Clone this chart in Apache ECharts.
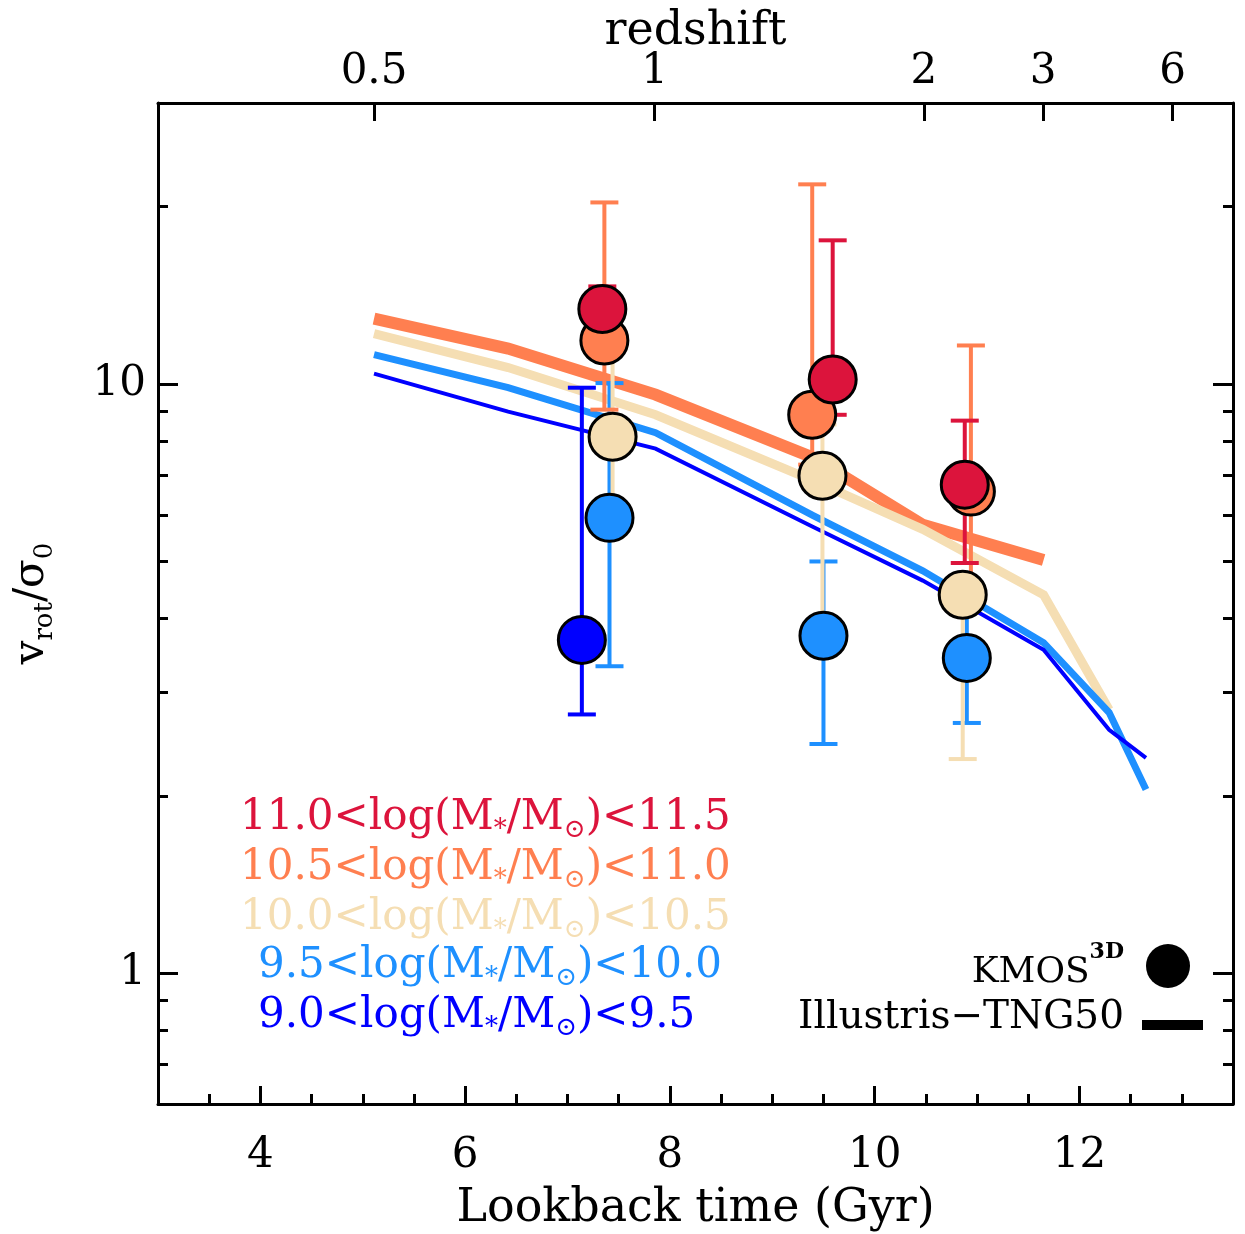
<!DOCTYPE html>
<html><head><meta charset="utf-8">
<script src="https://cdn.jsdelivr.net/npm/echarts@6/dist/echarts.min.js"></script>
<style>html,body{margin:0;padding:0;background:#fff}#c{width:1245px;height:1234px}</style>
</head><body><div id="c"></div>
<script>
// ---------- axis ticks ----------
const xTicks = [4, 6, 8, 10, 12];
const xMinorTicks = [3.5, 4.5, 5, 5.5, 6.5, 7, 7.5, 8.5, 9, 9.5, 10.5, 11, 11.5, 12.5, 13];
const zLabels = ['0.5', '1', '2', '3', '6'];
const zLookback = [5.11, 7.85, 10.48, 11.645, 12.91];
const yMajor = [1, 10];
const yMinor = [0.7, 0.8, 0.9, 2, 3, 4, 5, 6, 7, 8, 9, 20];

// ---------- KMOS3D points (lookback time, v/sigma, lower, upper) ----------
const redX = [7.34, 9.59, 10.88];
const redY = [13.41, 10.18, 6.75];
const redLo = [12.6, 8.87, 4.97];
const redHi = [14.65, 17.54, 8.67];

const orangeX = [7.36, 9.39, 10.94];
const orangeY = [11.86, 8.87, 6.57];
const orangeLo = [9.05, 7.30, 4.48];
const orangeHi = [20.34, 21.83, 11.63];

const wheatX = [7.44, 9.49, 10.86];
const wheatY = [8.14, 6.99, 4.39];
const wheatLo = [6.12, 3.98, 2.31];
const wheatHi = [11.45, 8.54, 4.56];

const lblueX = [7.41, 9.50, 10.90];
const lblueY = [5.93, 3.74, 3.43];
const lblueLo = [3.32, 2.45, 2.66];
const lblueHi = [10.04, 5.00, 4.30];

const blueX = [7.14];
const blueY = [3.68];
const blueLo = [2.75];
const blueHi = [9.86];

// ---------- TNG50 tracks ----------
const tngOrangeX = [5.11, 6.42, 7.86, 9.40, 10.47, 11.65];
const tngOrangeY = [12.92, 11.49, 9.60, 7.50, 5.77, 5.03];
const tngWheatX = [5.11, 6.42, 7.86, 9.40, 10.47, 11.65, 12.29];
const tngWheatY = [12.18, 10.67, 8.87, 6.86, 5.67, 4.39, 2.80];
const tngLblueX = [5.11, 6.42, 7.86, 9.40, 10.47, 11.65, 12.29, 12.65];
const tngLblueY = [11.22, 9.86, 8.27, 5.98, 4.82, 3.64, 2.77, 2.05];
const tngBlueX = [5.11, 6.42, 7.86, 9.40, 10.47, 11.65, 12.29, 12.65];
const tngBlueY = [10.42, 8.98, 7.77, 5.72, 4.64, 3.54, 2.59, 2.32];

const C_RED = '#DC143C', C_ORANGE = '#FF7F50', C_WHEAT = '#F5DEB3', C_LBLUE = '#1E90FF', C_BLUE = '#0000FF';
const FONT = 'DejaVu Serif';

const zip2 = (a, b) => a.map((v, i) => [v, b[i]]);
const zip3 = (a, b, c) => a.map((v, i) => [v, b[i], c[i]]);

function lineSeries(xs, ys, color, w) {
  return { type: 'line', data: zip2(xs, ys), xAxisIndex: 0, yAxisIndex: 0, symbol: 'none', z: 2,
    lineStyle: { color: color, width: w, cap: 'butt', join: 'miter' }, silent: true };
}
function errSeries(xs, lo, hi, color) {
  return { type: 'custom', xAxisIndex: 0, yAxisIndex: 0, z: 3, silent: true,
    data: zip3(xs, lo, hi),
    renderItem: function (params, api) {
      const x = api.value(0);
      const p1 = api.coord([x, api.value(1)]);
      const p2 = api.coord([x, api.value(2)]);
      const hw = 14, st = { stroke: color, lineWidth: 4 };
      return { type: 'group', children: [
        { type: 'line', shape: { x1: p1[0], y1: p1[1], x2: p2[0], y2: p2[1] }, style: st },
        { type: 'line', shape: { x1: p1[0] - hw, y1: p1[1], x2: p1[0] + hw, y2: p1[1] }, style: st },
        { type: 'line', shape: { x1: p2[0] - hw, y1: p2[1], x2: p2[0] + hw, y2: p2[1] }, style: st }
      ]};
    }
  };
}
function ptSeries(xs, ys, color, z) {
  return { type: 'scatter', xAxisIndex: 0, yAxisIndex: 0, z: z, data: zip2(xs, ys), symbol: 'circle', symbolSize: 47,
    itemStyle: { color: color, borderColor: '#000', borderWidth: 3, opacity: 1 }, silent: true };
}

const axLine = { show: true, onZero: false, lineStyle: { color: '#000', width: 3 } };
const noLine = { show: false, onZero: false };
const tickSt = { color: '#000', width: 3 };
const lblSt = { color: '#000', fontFamily: FONT, fontSize: 42 };

const subRich = {
  a: { fontFamily: FONT, fontSize: 42, lineHeight: 52, verticalAlign: 'middle' },
  s: { fontFamily: FONT, fontSize: 26, lineHeight: 24, verticalAlign: 'bottom' }
};

function massText(txt, x, y, color) {
  const parts = txt.split('|');
  const rich = {
    a: { fontFamily: FONT, fontSize: 42, lineHeight: 50, verticalAlign: 'middle', fill: color },
    s: { fontFamily: FONT, fontSize: 26, lineHeight: 22, verticalAlign: 'bottom', fill: color }
  };
  return { type: 'text', x: x, y: y, z: 20, style: {
    text: '{a|' + parts[0] + '<log(M}{s|*}{a|/M}{s|⊙}{a|)<' + parts[1] + '}',
    rich: rich, fill: color, verticalAlign: 'middle', align: 'left' } };
}

const option = {
  animation: false,
  backgroundColor: '#fff',
  grid: { left: 158, right: 12, top: 103, bottom: 130, containLabel: false, outerBoundsMode: 'none' },
  xAxis: [
    { type: 'value', position: 'bottom', min: 3, max: 13.5, axisLine: axLine,
      axisTick: { show: true, inside: true, length: 18, lineStyle: tickSt, customValues: xTicks },
      axisLabel: Object.assign({ customValues: xTicks, margin: 31 }, lblSt),
      splitLine: { show: false },
      name: 'Lookback time (Gyr)', nameLocation: 'middle', nameGap: 82,
      nameTextStyle: { fontFamily: FONT, fontSize: 46, color: '#000' } },
    { type: 'value', position: 'bottom', min: 3, max: 13.5, axisLine: noLine,
      axisTick: { show: true, inside: true, length: 10, lineStyle: tickSt, customValues: xMinorTicks },
      axisLabel: { show: false }, splitLine: { show: false } },
    { type: 'value', position: 'top', min: 3, max: 13.5, axisLine: axLine,
      axisTick: { show: true, inside: true, length: 18, lineStyle: tickSt, customValues: zLookback },
      axisLabel: Object.assign({ customValues: zLookback, margin: 10,
        formatter: function (v) {
          let bi = 0; zLookback.forEach((z, i) => { if (Math.abs(z - v) < Math.abs(zLookback[bi] - v)) bi = i; });
          return zLabels[bi];
        } }, lblSt),
      splitLine: { show: false },
      name: 'redshift', nameLocation: 'middle', nameGap: 48, nameMoveOverlap: false,
      nameTextStyle: { fontFamily: FONT, fontSize: 46, color: '#000' } }
  ],
  yAxis: [
    { type: 'log', logBase: 10, position: 'left', min: 0.6, max: 30, axisLine: axLine,
      axisTick: { show: true, inside: true, length: 20, lineStyle: tickSt, customValues: yMajor },
      axisLabel: Object.assign({ customValues: yMajor, margin: 12 }, lblSt),
      splitLine: { show: false },
      name: '{a|v}{s|rot}{a|/σ}{s|0}', nameLocation: 'middle', nameGap: 100, nameRotate: 90,
      nameTextStyle: { color: '#000', rich: subRich } },
    { type: 'log', logBase: 10, position: 'left', min: 0.6, max: 30, axisLine: noLine,
      axisTick: { show: true, inside: true, length: 10, lineStyle: tickSt, customValues: yMinor },
      axisLabel: { show: false }, splitLine: { show: false } },
    { type: 'log', logBase: 10, position: 'right', min: 0.6, max: 30, axisLine: axLine,
      axisTick: { show: true, inside: true, length: 20, lineStyle: tickSt, customValues: yMajor },
      axisLabel: { show: false }, splitLine: { show: false } },
    { type: 'log', logBase: 10, position: 'right', min: 0.6, max: 30, axisLine: noLine,
      axisTick: { show: true, inside: true, length: 10, lineStyle: tickSt, customValues: yMinor },
      axisLabel: { show: false }, splitLine: { show: false } }
  ],
  series: [
    lineSeries(tngOrangeX, tngOrangeY, C_ORANGE, 12),
    lineSeries(tngWheatX, tngWheatY, C_WHEAT, 9),
    lineSeries(tngLblueX, tngLblueY, C_LBLUE, 7),
    lineSeries(tngBlueX, tngBlueY, C_BLUE, 4),
    errSeries(blueX, blueLo, blueHi, C_BLUE),
    errSeries(lblueX, lblueLo, lblueHi, C_LBLUE),
    errSeries(wheatX, wheatLo, wheatHi, C_WHEAT),
    errSeries(orangeX, orangeLo, orangeHi, C_ORANGE),
    errSeries(redX, redLo, redHi, C_RED),
    ptSeries(blueX, blueY, C_BLUE, 4),
    ptSeries(lblueX, lblueY, C_LBLUE, 5),
    ptSeries(wheatX, wheatY, C_WHEAT, 6),
    ptSeries(orangeX, orangeY, C_ORANGE, 7),
    ptSeries(redX, redY, C_RED, 8)
  ],
  graphic: [
    massText('11.0|11.5', 240, 818, C_RED),
    massText('10.5|11.0', 240, 868, C_ORANGE),
    massText('10.0|10.5', 240, 918, C_WHEAT),
    massText('9.5|10.0', 258, 966, C_LBLUE),
    massText('9.0|9.5', 258, 1016, C_BLUE),
    { type: 'text', x: 1124, y: 966, z: 20, style: {
        text: '{a|KMOS}{p|3D}', align: 'right', verticalAlign: 'middle',
        rich: { a: { fontFamily: FONT, fontSize: 36, lineHeight: 50, verticalAlign: 'bottom', fill: '#000' },
                p: { fontFamily: FONT, fontSize: 22, fontWeight: 'bold', lineHeight: 22, verticalAlign: 'top', fill: '#000' } } } },
    { type: 'circle', z: 20, shape: { cx: 1168, cy: 966, r: 22 }, style: { fill: '#000' } },
    { type: 'text', x: 1124, y: 1018, z: 20, style: {
        text: 'Illustris−TNG50', align: 'right', verticalAlign: 'middle',
        font: '39px "DejaVu Serif"', fill: '#000' } },
    { type: 'rect', z: 20, shape: { x: 1142, y: 1020, width: 61, height: 10 }, style: { fill: '#000' } }
  ]
};

const chart = echarts.init(document.getElementById('c'), null, { renderer: 'canvas' });
chart.setOption(option);
</script>
</body></html>
